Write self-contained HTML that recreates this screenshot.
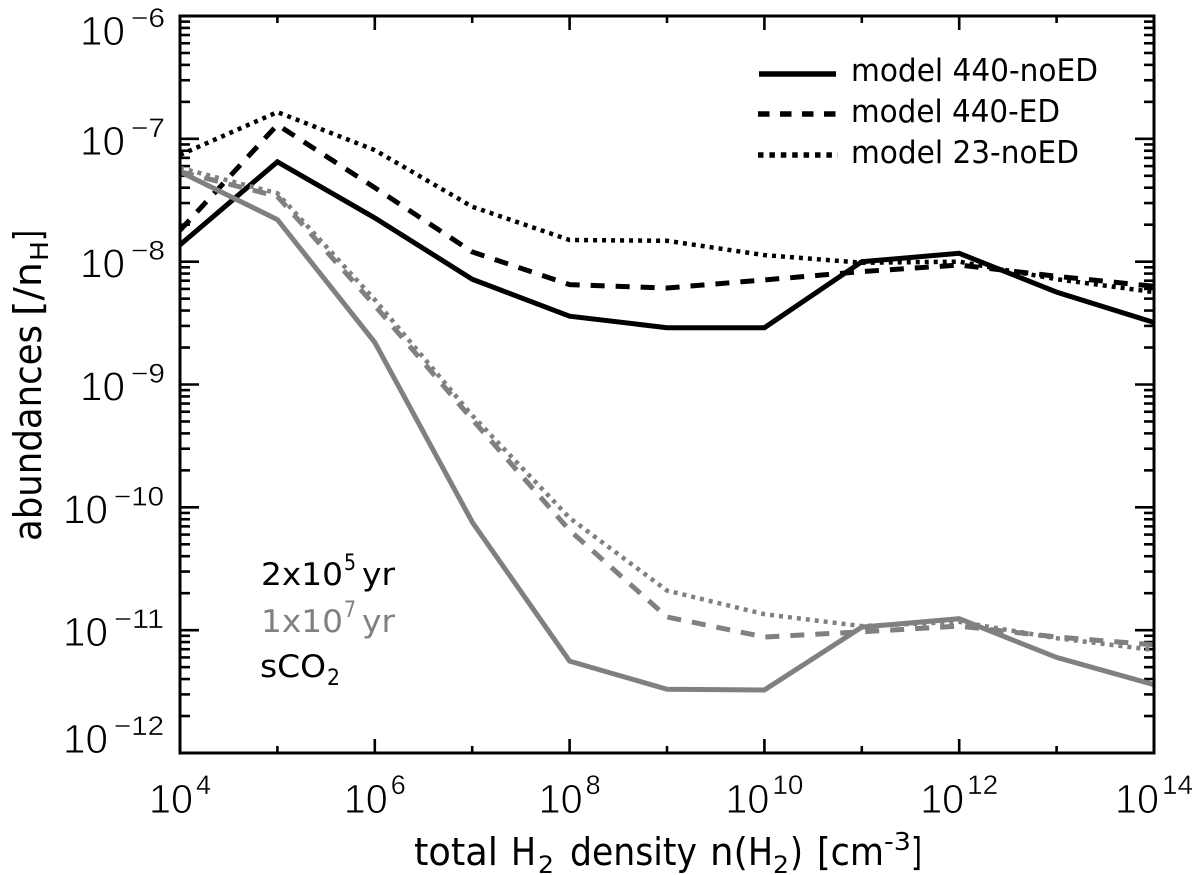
<!DOCTYPE html>
<html lang="en">
<head>
<meta charset="utf-8">
<title>Abundances vs. total H2 density</title>
<style>
html,body{margin:0;padding:0;background:#fff;width:1200px;height:875px;overflow:hidden}
svg{display:block}
text{font-family:"DejaVu Sans","Liberation Sans",sans-serif}
.tick{font-family:"Liberation Sans","DejaVu Sans",sans-serif}
.thin{stroke:#fff;stroke-width:0.9px}
.semi{stroke:#fff;stroke-width:0.35px}
</style>
</head>
<body>
<svg id="chart" xmlns="http://www.w3.org/2000/svg" width="1200" height="875" viewBox="0 0 1200 875">
<rect width="1200" height="875" fill="#fff"/>
<g id="ticks"></g>
<g id="series"></g>
<rect x="180" y="16" width="974" height="737" fill="none" stroke="#000" stroke-width="3"/>
<g id="ticklabels"></g>

<g>
  <line x1="759" y1="74" x2="836" y2="74" stroke="#000" stroke-width="5.5"/>
  <text x="851" y="81" font-size="31" textLength="247" lengthAdjust="spacingAndGlyphs">model 440-noED</text>
  <line x1="758" y1="114" x2="836" y2="114" stroke="#000" stroke-width="5.5" stroke-dasharray="11.5 10.5"/>
  <text x="851" y="122" font-size="31" textLength="209" lengthAdjust="spacingAndGlyphs">model 440-ED</text>
  <line x1="758" y1="155" x2="838" y2="155" stroke="#000" stroke-width="5.5" stroke-dasharray="5.5 5.9"/>
  <text x="851" y="163" font-size="31" textLength="228" lengthAdjust="spacingAndGlyphs">model 23-noED</text>
</g>

<g>
  <text x="261" y="585" font-size="31" textLength="82" lengthAdjust="spacingAndGlyphs">2x10</text>
  <text x="344" y="570" font-size="22" textLength="12" lengthAdjust="spacingAndGlyphs">5</text>
  <text x="362" y="585" font-size="31" textLength="33" lengthAdjust="spacingAndGlyphs">yr</text>
  <text x="261" y="632" font-size="31" fill="#808080" textLength="82" lengthAdjust="spacingAndGlyphs">1x10</text>
  <text x="344" y="617" font-size="22" fill="#808080" textLength="12" lengthAdjust="spacingAndGlyphs">7</text>
  <text x="362" y="632" font-size="31" fill="#808080" textLength="33" lengthAdjust="spacingAndGlyphs">yr</text>
  <text x="260" y="677" font-size="31" textLength="66" lengthAdjust="spacingAndGlyphs">sCO</text>
  <text x="327" y="685" font-size="22" textLength="13" lengthAdjust="spacingAndGlyphs">2</text>
</g>

<g>
  <text x="414" y="865" font-size="38" textLength="84" lengthAdjust="spacingAndGlyphs">total</text>
  <text x="511" y="865" font-size="38" textLength="25" lengthAdjust="spacingAndGlyphs">H</text>
  <text x="538" y="873" font-size="24" textLength="16" lengthAdjust="spacingAndGlyphs">2</text>
  <text x="570" y="865" font-size="38" textLength="127" lengthAdjust="spacingAndGlyphs">density</text>
  <text x="710" y="865" font-size="38" textLength="38" lengthAdjust="spacingAndGlyphs">n(</text>
  <text x="748" y="865" font-size="38" textLength="25" lengthAdjust="spacingAndGlyphs">H</text>
  <text x="773" y="873" font-size="24" textLength="16" lengthAdjust="spacingAndGlyphs">2</text>
  <text x="790" y="865" font-size="38" textLength="13" lengthAdjust="spacingAndGlyphs">)</text>
  <text x="817" y="865" font-size="38" textLength="67" lengthAdjust="spacingAndGlyphs">[cm</text>
  <text x="884" y="850" font-size="25" textLength="27" lengthAdjust="spacingAndGlyphs">-3</text>
  <text x="911" y="865" font-size="38" textLength="11" lengthAdjust="spacingAndGlyphs">]</text>
</g>

<g transform="translate(41,541) rotate(-90)">
  <text x="0" y="0" font-size="38" textLength="216" lengthAdjust="spacingAndGlyphs">abundances</text>
  <text x="225" y="0" font-size="38" textLength="54" lengthAdjust="spacingAndGlyphs">[/n</text>
  <text x="280" y="7" font-size="25" textLength="20" lengthAdjust="spacingAndGlyphs">H</text>
  <text x="300" y="0" font-size="38" textLength="11" lengthAdjust="spacingAndGlyphs">]</text>
</g>
</svg>

<script>
const densityExponents = [4, 5, 6, 7, 8, 9, 10, 11, 12, 13, 14];
const model440NoEdEarly = [1.37e-8, 6.5e-8, 2.27e-8, 7.2e-9, 3.6e-9, 2.9e-9, 2.9e-9, 1.0e-8, 1.17e-8, 5.65e-9, 3.2e-9];
const model440EdEarly = [1.8e-8, 1.3e-7, 4.0e-8, 1.2e-8, 6.5e-9, 6.1e-9, 7.1e-9, 8.3e-9, 9.4e-9, 7.6e-9, 6.3e-9];
const model23NoEdEarly = [7.4e-8, 1.65e-7, 8.1e-8, 2.8e-8, 1.5e-8, 1.48e-8, 1.13e-8, 9.8e-9, 1.0e-8, 7.2e-9, 5.65e-9];
const model440NoEdLate = [5.4e-8, 2.2e-8, 2.2e-9, 7.6e-11, 5.6e-12, 3.3e-12, 3.26e-12, 1.06e-11, 1.24e-11, 6.0e-12, 3.6e-12];
const model440EdLate = [5.4e-8, 3.4e-8, 4.4e-9, 5.2e-10, 6.5e-11, 1.28e-11, 8.8e-12, 9.7e-12, 1.08e-11, 8.8e-12, 7.6e-12];
const model23NoEdLate = [5.8e-8, 3.6e-8, 4.9e-9, 5.6e-10, 8.2e-11, 2.1e-11, 1.35e-11, 1.08e-11, 1.17e-11, 8.6e-12, 6.9e-12];
const xTickExponents = [4, 6, 8, 10, 12, 14];
const xMinorExponents = [5, 7, 9, 11, 13];
const yTickExponents = [-12, -11, -10, -9, -8, -7, -6];

const NS = 'http://www.w3.org/2000/svg';
const plotLeft = 180, plotRight = 1154, plotTop = 16, plotBottom = 753;
const xMin = 4, xMax = 14, yMin = -12, yMax = -6;

function xScale(exponent) {
  return plotLeft + (exponent - xMin) * (plotRight - plotLeft) / (xMax - xMin);
}
function yScale(value) {
  return plotBottom - (Math.log10(value) - yMin) * (plotBottom - plotTop) / (yMax - yMin);
}
function make(tag, attrs, parent) {
  const el = document.createElementNS(NS, tag);
  for (const k in attrs) el.setAttribute(k, attrs[k]);
  parent.appendChild(el);
  return el;
}

const tickGroup = document.getElementById('ticks');
const labelGroup = document.getElementById('ticklabels');
const seriesGroup = document.getElementById('series');

function addTick(x1, y1, x2, y2, name) {
  const el = make('line', {x1: x1, y1: y1, x2: x2, y2: y2, stroke: '#000', 'stroke-width': 2.6}, tickGroup);
  
  
}

xTickExponents.forEach(function (e) {
  const x = xScale(e);
  addTick(x, plotBottom, x, plotBottom - 14, 'x-major-tick');
  addTick(x, plotTop, x, plotTop + 14, 'x-major-tick-top');
});
xMinorExponents.forEach(function (e) {
  const x = xScale(e);
  addTick(x, plotBottom, x, plotBottom - 7, 'x-minor-tick');
  addTick(x, plotTop, x, plotTop + 7, 'x-minor-tick-top');
});
yTickExponents.forEach(function (e) {
  const y = yScale(Math.pow(10, e));
  addTick(plotLeft, y, plotLeft + 19, y, 'y-major-tick');
  addTick(plotRight, y, plotRight - 19, y, 'y-major-tick-right');
  if (e < yMax) {
    for (let m = 2; m <= 9; m++) {
      const my = yScale(m * Math.pow(10, e));
      addTick(plotLeft, my, plotLeft + 10, my, 'y-minor-tick');
      addTick(plotRight, my, plotRight - 10, my, 'y-minor-tick-right');
    }
  }
});

function addLabelPart(str, x, y, size, width, cls, name) {
  const el = make('text', {x: x, y: y, 'font-size': size, textLength: width, lengthAdjust: 'spacingAndGlyphs', class: 'tick ' + cls}, labelGroup);
  el.textContent = str;
  
  
}

xTickExponents.forEach(function (e) {
  const cx = xScale(e);
  const expStr = String(e);
  const expWidth = expStr.length > 1 ? 31 : 15;
  const total = 43 + 4 + expWidth;
  const start = cx - total / 2;
  addLabelPart('10', start, 813, 41, 44, 'thin', 'x-tick-label-base');
  addLabelPart(expStr, start + 47, 794, 27, expWidth, 'semi', 'x-tick-label-exponent');
});

yTickExponents.forEach(function (e) {
  const tickY = yScale(Math.pow(10, e));
  let base = tickY + 16;
  if (e === yMin) base = tickY;
  if (e === yMax) base = tickY + 29;
  const expStr = '\u2212' + Math.abs(e);
  const isDouble = Math.abs(e) >= 10;
  const baseX = isDouble ? 63 : 80;
  const expX = isDouble ? 114 : 131;
  const expWidth = isDouble ? 50 : 34;
  addLabelPart('10', baseX, base, 41, 45, 'thin', 'y-tick-label-base');
  addLabelPart(expStr, expX, base - 18, 27, expWidth, 'semi', 'y-tick-label-exponent');
});

function drawSeries(values, color, dash, width, name) {
  const d = values.map(function (v, i) {
    return (i ? 'L' : 'M') + xScale(densityExponents[i]).toFixed(1) + ' ' + yScale(v).toFixed(1);
  }).join(' ');
  const el = make('path', {d: d, fill: 'none', stroke: color, 'stroke-width': width, 'stroke-linejoin': 'miter'}, seriesGroup);
  if (dash) el.setAttribute('stroke-dasharray', dash);
  
  
}

drawSeries(model23NoEdEarly, '#000', '4 5', 4.5, 'line-23-noed-2e5yr');
drawSeries(model440EdEarly, '#000', '14 11', 5, 'line-440-ed-2e5yr');
drawSeries(model440NoEdEarly, '#000', null, 5, 'line-440-noed-2e5yr');
drawSeries(model23NoEdLate, '#808080', '4 5', 4.5, 'line-23-noed-1e7yr');
drawSeries(model440EdLate, '#808080', '14 11', 5, 'line-440-ed-1e7yr');
drawSeries(model440NoEdLate, '#808080', null, 5, 'line-440-noed-1e7yr');
</script>
</body>
</html>
